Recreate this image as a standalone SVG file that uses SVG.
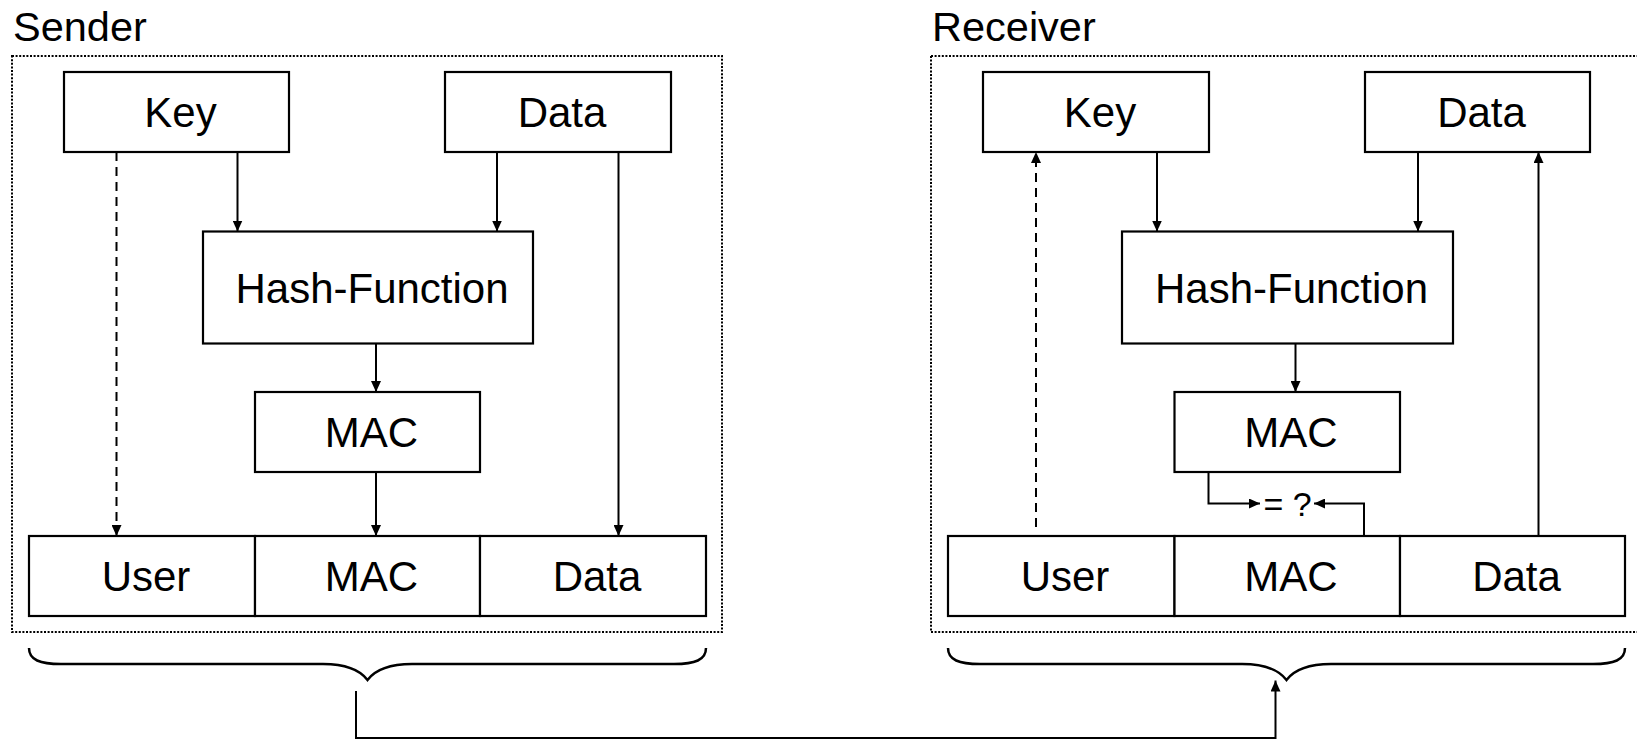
<svg xmlns="http://www.w3.org/2000/svg" width="1637" height="740" viewBox="0 0 1637 740">
<style>
  .bg { fill: #ffffff; }
  .frame { fill: none; stroke: #000; stroke-width: 2; stroke-dasharray: 2 1.6; }
  .box { fill: #ffffff; stroke: #000; stroke-width: 2.2; }
  .lbl { font-family: "Liberation Sans", Arial, sans-serif; font-size: 42px; fill: #000; text-anchor: middle; }
  .title { font-family: "Liberation Sans", Arial, sans-serif; font-size: 41.5px; fill: #000; }
  .eq { font-family: "Liberation Sans", Arial, sans-serif; font-size: 34px; fill: #000; text-anchor: middle; }
  .ln { fill: none; stroke: #000; stroke-width: 2; }
  .dash { stroke-dasharray: 9 6; }
  .brace { fill: none; stroke: #000; stroke-width: 2.5; }
</style>
<defs>
  <marker id="ah" markerUnits="userSpaceOnUse" markerWidth="11" markerHeight="10" refX="11" refY="5" orient="auto">
    <path d="M0,0 L11,5 L0,10 z" fill="#000"/>
  </marker>
</defs>
<rect class="bg" x="0" y="0" width="1637" height="740"/>

<!-- Sender side -->
<g id="sender-frame">
  <rect class="frame" x="12" y="56" width="710" height="576"/>
  <text class="title" x="13" y="40.5">Sender</text>
</g>
<g id="s-key"><rect class="box" x="64" y="72" width="225" height="80"/><text class="lbl" x="180.5" y="127">Key</text></g>
<g id="s-data"><rect class="box" x="445" y="72" width="226" height="80"/><text class="lbl" x="562" y="127">Data</text></g>
<g id="s-hash"><rect class="box" x="203" y="231.5" width="330" height="112"/><text class="lbl" x="372" y="303">Hash-Function</text></g>
<g id="s-mac"><rect class="box" x="255" y="392" width="225" height="80"/><text class="lbl" x="371.5" y="447">MAC</text></g>
<g id="s-user-cell"><rect class="box" x="29" y="536" width="226" height="80"/><text class="lbl" x="146" y="591">User</text></g>
<g id="s-mac-cell"><rect class="box" x="255" y="536" width="225" height="80"/><text class="lbl" x="371.5" y="591">MAC</text></g>
<g id="s-data-cell"><rect class="box" x="480" y="536" width="226" height="80"/><text class="lbl" x="597" y="591">Data</text></g>
<g id="s-brace"><path class="brace" d="M29,648 C29,660 40,664 61,664 L323,664 C345,664 360,670 367.5,680 C375,670 390,664 412,664 L674,664 C695,664 706,660 706,648"/></g>

<!-- Receiver side -->
<g id="receiver-frame">
  <rect class="frame" x="931" y="56" width="730" height="576"/>
  <text class="title" x="932" y="40.5">Receiver</text>
</g>
<g id="r-key"><rect class="box" x="983" y="72" width="226" height="80"/><text class="lbl" x="1100" y="127">Key</text></g>
<g id="r-data"><rect class="box" x="1365" y="72" width="225" height="80"/><text class="lbl" x="1481.5" y="127">Data</text></g>
<g id="r-hash"><rect class="box" x="1122" y="231.5" width="331" height="112"/><text class="lbl" x="1291.5" y="303">Hash-Function</text></g>
<g id="r-mac"><rect class="box" x="1174.5" y="392" width="225.5" height="80"/><text class="lbl" x="1291" y="447">MAC</text></g>
<g id="r-user-cell"><rect class="box" x="948" y="536" width="226.5" height="80"/><text class="lbl" x="1065" y="591">User</text></g>
<g id="r-mac-cell"><rect class="box" x="1174.5" y="536" width="225.5" height="80"/><text class="lbl" x="1291" y="591">MAC</text></g>
<g id="r-data-cell"><rect class="box" x="1400" y="536" width="225" height="80"/><text class="lbl" x="1516.5" y="591">Data</text></g>
<g id="r-brace"><path class="brace" d="M948,648 C948,660 959,664 980,664 L1242,664 C1264,664 1279,670 1286.5,680 C1294,670 1309,664 1331,664 L1593,664 C1614,664 1625,660 1625,648"/></g>
<g id="r-compare"><text class="eq" x="1287.5" y="516">= ?</text></g>

<!-- Connectors -->
<g id="connectors">
  <line class="ln dash" x1="116.5" y1="152" x2="116.5" y2="536" marker-end="url(#ah)"/>
  <line class="ln" x1="237.5" y1="152" x2="237.5" y2="231.5" marker-end="url(#ah)"/>
  <line class="ln" x1="497" y1="152" x2="497" y2="231.5" marker-end="url(#ah)"/>
  <line class="ln" x1="618.5" y1="152" x2="618.5" y2="536" marker-end="url(#ah)"/>
  <line class="ln" x1="376" y1="343.5" x2="376" y2="392" marker-end="url(#ah)"/>
  <line class="ln" x1="376" y1="472" x2="376" y2="536" marker-end="url(#ah)"/>

  <line class="ln dash" x1="1036" y1="527" x2="1036" y2="152" marker-end="url(#ah)"/>
  <line class="ln" x1="1157" y1="152" x2="1157" y2="231.5" marker-end="url(#ah)"/>
  <line class="ln" x1="1418" y1="152" x2="1418" y2="231.5" marker-end="url(#ah)"/>
  <line class="ln" x1="1538.5" y1="536" x2="1538.5" y2="152" marker-end="url(#ah)"/>
  <line class="ln" x1="1295.5" y1="343.5" x2="1295.5" y2="392" marker-end="url(#ah)"/>
  <path class="ln" d="M1208.5,472 V503.5 H1260" marker-end="url(#ah)"/>
  <path class="ln" d="M1364,536 V503.5 H1314" marker-end="url(#ah)"/>

  <path class="ln" d="M356,691 V738 H1275.5 V680.5" marker-end="url(#ah)"/>
</g>
</svg>
